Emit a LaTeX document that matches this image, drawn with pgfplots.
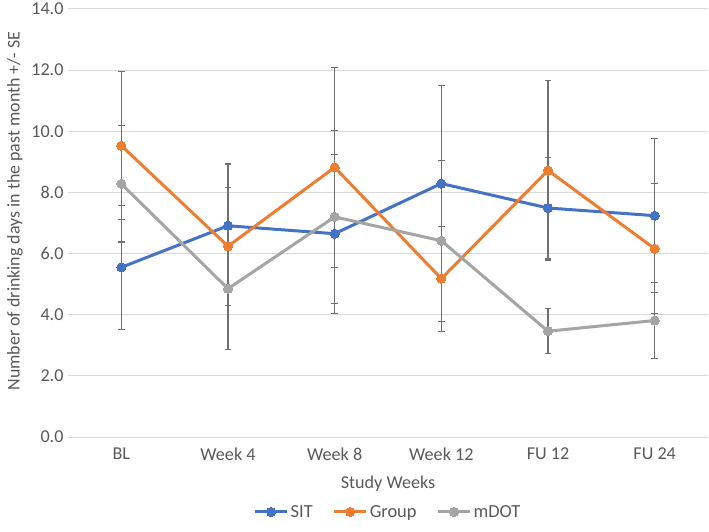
\documentclass[border=0pt]{standalone}
\usepackage{pgfplots}
\pgfplotsset{compat=1.18}
\usepackage{pgfplotstable}
\usepackage{fontspec}
\setmainfont{Carlito}
\definecolor{sit}{HTML}{4472C4}
\definecolor{grp}{HTML}{ED7D31}
\definecolor{mdot}{HTML}{A5A5A5}
\definecolor{gridc}{HTML}{D9D9D9}
\definecolor{txt}{HTML}{595959}
\definecolor{errc}{HTML}{707070}

\pgfplotstableread{
x y e
0 5.55 2.02
1 6.91 2.02
2 6.65 2.60
3 8.29 3.21
4 7.49 1.66
5 7.24 2.51
}\sit
\pgfplotstableread{
x y e
0 9.53 2.42
1 6.24 1.93
2 8.82 3.27
3 5.18 1.72
4 8.72 2.93
5 6.16 2.12
}\grp
\pgfplotstableread{
x y e
0 8.28 1.90
1 4.85 1.99
2 7.20 2.84
3 6.42 2.63
4 3.46 0.73
5 3.81 1.25
}\mdot

\begin{document}
\begin{tikzpicture}
\useasboundingbox (-68bp,-95bp) rectangle (641bp,437bp);
\begin{axis}[
  at={(0,0)}, anchor=south west,
  scale only axis, width=640bp, height=428bp,
  xmin=-0.5, xmax=5.5, ymin=0, ymax=14,
  xtick={0,...,5},
  xticklabels={BL, Week 4, Week 8, Week 12, FU 12, FU 24},
  ytick={0,2,...,14},
  yticklabel style={xshift=-1bp, /pgf/number format/.cd, fixed, fixed zerofill, precision=1, assume math mode=true},
  ymajorgrids, grid style={gridc, line width=1bp},
  axis line style={draw=none},
  tick style={draw=none},
  font=\fontsize{18.2}{21}\selectfont,
  every tick label/.append style={text=txt},
  xticklabel style={yshift=-7bp},
  every axis x label/.style={at={(axis description cs:0.5,-0.11)}, anchor=center, text=txt},
  every axis y label/.style={at={(axis description cs:-0.0828,0.528)}, anchor=center, rotate=90, text=txt, font=\fontsize{18}{21}\selectfont},
  xlabel={Study Weeks},
  ylabel={Number of drinking days in the past month +/- SE},
  legend style={at={(0.5,-0.175)}, anchor=center, draw=none, fill=none, legend columns=3,
    /tikz/every even column/.append style={column sep=18bp}, font=\fontsize{18.5}{21}\selectfont, text=txt},
  legend image code/.code={\draw[mark repeat=2,mark phase=2] plot coordinates {(0bp,0bp)(16bp,0bp)(32bp,0bp)};},
  every axis plot/.append style={line width=3bp, mark=*, mark size=4.6bp},
  error bars/y dir=both, error bars/y explicit,
  error bars/error bar style={errc, line width=1.1bp},
  error bars/error mark options={errc, rotate=90, mark size=3.3bp, line width=1.1bp},
]
\addplot[sit, mark options={fill=sit, line width=0pt}] table[x=x, y=y, y error=e] {\sit};
\addlegendentry{SIT}
\addplot[grp, mark options={fill=grp, line width=0pt}] table[x=x, y=y, y error=e] {\grp};
\addlegendentry{Group}
\addplot[mdot, mark options={fill=mdot, line width=0pt}] table[x=x, y=y, y error=e] {\mdot};
\addlegendentry{mDOT}
\end{axis}
\end{tikzpicture}
\end{document}
